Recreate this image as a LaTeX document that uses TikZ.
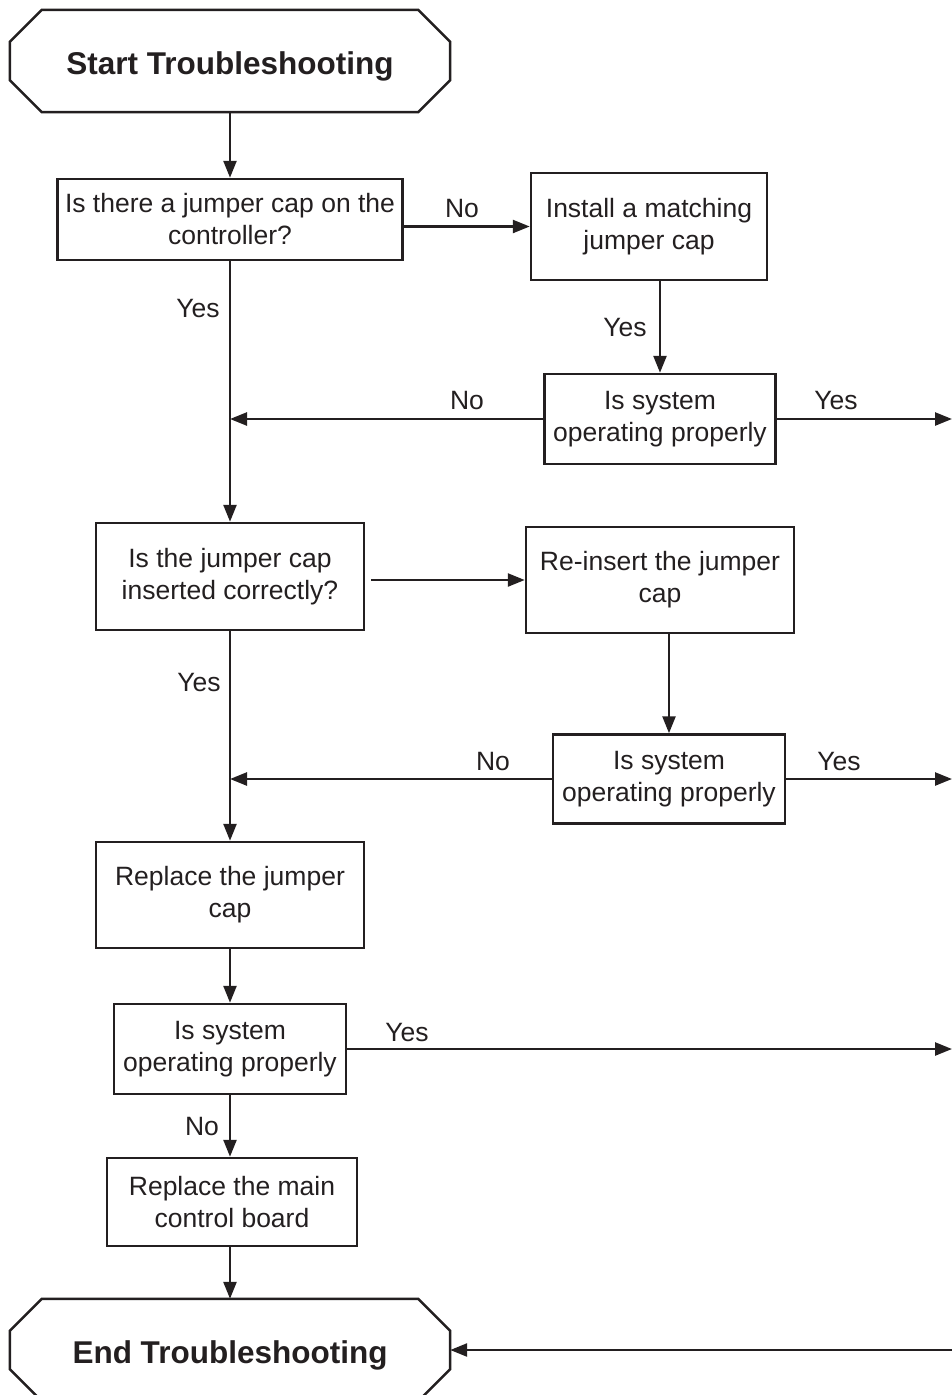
\documentclass[tikz,border=0pt]{standalone}
\usepackage{fontspec}
\setmainfont{Liberation Sans}
\usetikzlibrary{arrows.meta}
\definecolor{ink}{HTML}{231F20}
\begin{document}
\begin{tikzpicture}[x=1pt,y=-1pt,
  every node/.style={font=\fontsize{26.5}{32}\selectfont, text=ink},
  box/.style={draw=ink, line width=2.5pt, align=center, inner sep=0pt},
  termtext/.style={inner sep=0pt, minimum width=440pt, minimum height=102pt, text height=26pt, text depth=0pt, font=\bfseries\fontsize{31.5}{36}\selectfont},
  termline/.style={draw=ink, line width=2.5pt},
  arr/.style={draw=ink, line width=2.5pt, -{Triangle[length=17pt,width=13pt]}},
  lbl/.style={inner sep=0pt}]
\clip (0,0) rectangle (952,1395);
% terminals
\node[termtext] (start) at (230,61) {Start Troubleshooting};
\node[termtext] (end) at (230,1350) {End Troubleshooting};
\foreach \t in {start,end}{
  \draw[termline] ([xshift=32pt]\t.north west) -- ([xshift=-32pt]\t.north east)
    -- ([yshift=-32pt]\t.north east) -- ([yshift=32pt]\t.south east)
    -- ([xshift=-32pt]\t.south east) -- ([xshift=32pt]\t.south west)
    -- ([yshift=32pt]\t.south west) -- ([yshift=-32pt]\t.north west) -- cycle;
}
% boxes
\node[box, minimum width=345pt, minimum height=81pt] (b1) at (230,219.5) {Is there a jumper cap on the\\controller?};
\node[box, minimum width=236pt, minimum height=107pt] (b2) at (649,226.5) {Install a matching\\jumper cap};
\node[box, minimum width=231pt, minimum height=90pt] (d1) at (660,419) {Is system\\operating properly};
\node[box, minimum width=268pt, minimum height=107pt] (b3) at (230,576.5) {Is the jumper cap\\inserted correctly?};
\node[box, minimum width=268pt, minimum height=106pt] (b4) at (660,580) {Re-insert the jumper\\cap};
\node[box, minimum width=232pt, minimum height=89pt] (d2) at (669,779) {Is system\\operating properly};
\node[box, minimum width=268pt, minimum height=106pt] (b5) at (230,895) {Replace the jumper\\cap};
\node[box, minimum width=232pt, minimum height=90pt] (d3) at (230,1049) {Is system\\operating properly};
\node[box, minimum width=250pt, minimum height=88pt] (b6) at (232,1202) {Replace the main\\control board};
% free ends
\coordinate (j1) at (230,419);
\coordinate (j2) at (230,779);
\coordinate (r1) at (952,419);
\coordinate (r2) at (952,779);
\coordinate (r3) at (952,1049);
\coordinate (r4) at (952,1350);
% connectors
\draw[arr] (start.south) -- (b1.north);
\draw[arr] (b1.east |- b2.west) -- (b2.west);
\draw[arr] (d1.north |- b2.south) -- (d1.north);
\draw[arr] (d1.west) -- (j1);
\draw[arr] (d1.east) -- (r1);
\draw[arr] (b1.south) -- (b3.north);
\draw[arr, shorten <=6pt] (b3.east |- b4.west) -- (b4.west);
\draw[arr] (d2.north |- b4.south) -- (d2.north);
\draw[arr] (d2.west) -- (j2);
\draw[arr] (d2.east) -- (r2);
\draw[arr] (b3.south) -- (b5.north);
\draw[arr] (b5.south) -- (d3.north);
\draw[arr] (d3.east) -- (r3);
\draw[arr] (d3.south) -- (b6.north -| d3.south);
\draw[arr] (b6.south -| end.north) -- (end.north);
\draw[arr] (r4) -- (end.east);
% labels
\node[lbl] (n1) at (462,209) {No};
\node[lbl] (y1) at (198,309) {Yes};
\node[lbl] (y2) at (625,328) {Yes};
\node[lbl] (n2) at (467,401) {No};
\node[lbl] (y3) at (836,401) {Yes};
\node[lbl] (y4) at (199,683) {Yes};
\node[lbl] (n3) at (493,762) {No};
\node[lbl] (y5) at (839,762) {Yes};
\node[lbl] (y6) at (407,1032) {Yes};
\node[lbl] (n4) at (202,1126) {No};
\end{tikzpicture}
\end{document}
